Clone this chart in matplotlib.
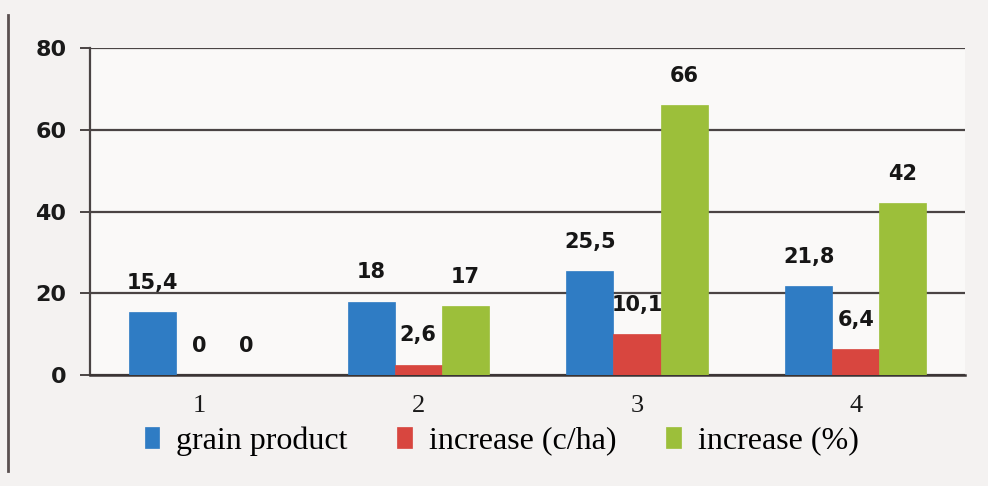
import numpy as np
import matplotlib.pyplot as plt

# chart values
categories = ["1", "2", "3", "4"]
grain_product = [15.4, 18, 25.5, 21.8]
increase_cha = [0, 2.6, 10.1, 6.4]
increase_pct = [0, 17, 66, 42]
yticks = [0, 20, 40, 60, 80]

series = [
    ("grain product", grain_product, "#2f7cc4"),
    ("increase (c/ha)", increase_cha, "#d8463f"),
    ("increase (%)", increase_pct, "#9cbf3a"),
]

fig = plt.figure(figsize=(9.88, 4.86), dpi=100)
fig.patch.set_facecolor("#f4f2f1")
ax = fig.add_axes([0.091, 0.228, 0.886, 0.673])
ax.set_facecolor("#faf9f8")

x = np.arange(len(categories))
width = 0.215
offsets = [-width, 0, width]

for (name, vals, color), off in zip(series, offsets):
    bars = ax.bar(x + off, vals, width, color=color, label=name, zorder=3,
                  edgecolor=color, linewidth=0.5)
    for b, v in zip(bars, vals):
        txt = f"{v:g}".replace(".", ",")
        ax.annotate(txt, (b.get_x() + b.get_width() / 2, b.get_height()),
                    xytext=(0, 21), textcoords="offset points",
                    ha="center", va="center", fontsize=15,
                    fontweight="bold", color="#161616", zorder=4)

ax.set_xlim(-0.5, 3.5)
ax.set_ylim(0, 80)
ax.set_yticks(yticks)
ax.set_yticklabels([str(t) for t in yticks], fontsize=16, fontweight="bold",
                   color="#1a1a1a")
ax.set_xticks(x)
ax.set_xticklabels(categories, fontsize=19, family="Liberation Serif",
                   color="#1a1a1a")
ax.tick_params(axis="x", length=0, pad=14)
ax.tick_params(axis="y", length=7, width=1.4, color="#4a4444", pad=10)

ax.grid(axis="y", color="#4a4444", linewidth=1.6, zorder=1)
for side in ["top", "right"]:
    ax.spines[side].set_visible(False)
ax.spines["left"].set_color("#4a4444")
ax.spines["left"].set_linewidth(1.6)
ax.spines["bottom"].set_color("#3a3434")
ax.spines["bottom"].set_linewidth(1.8)

fig.legend(loc="center", bbox_to_anchor=(0.508, 0.093), ncol=3,
           frameon=False, prop={"family": "Liberation Serif", "size": 23},
           handlelength=0.45, handleheight=0.65, handletextpad=0.55,
           columnspacing=1.55)

# dark scan edge on the left
fig.add_artist(plt.Line2D([0.008, 0.008], [0.03, 0.97], color="#5a5050",
                          linewidth=2, transform=fig.transFigure))

fig.savefig("out.png", dpi=100, facecolor=fig.get_facecolor())
